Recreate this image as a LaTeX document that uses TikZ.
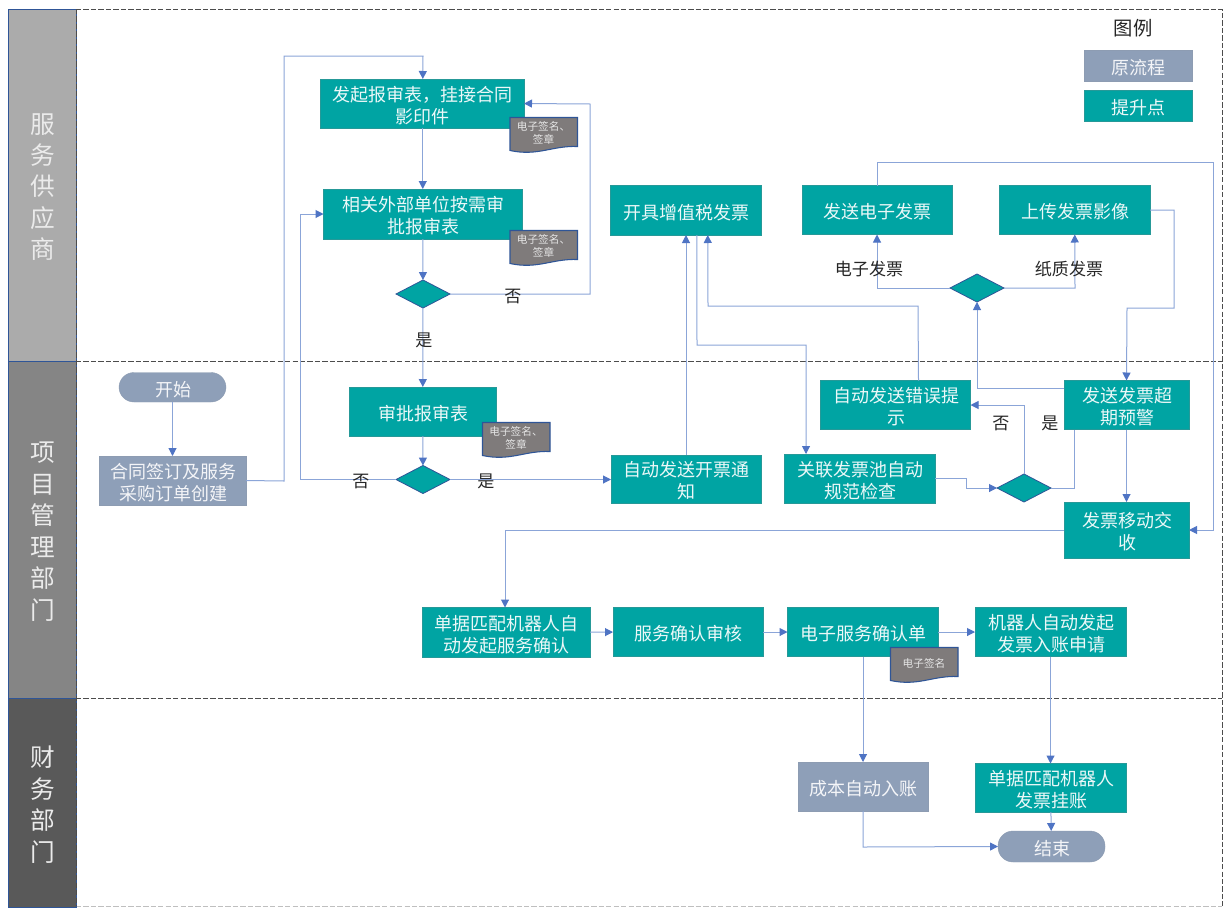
\documentclass[tikz,border=0pt]{standalone}
\usepackage{fontspec}
\setmainfont{Noto Sans CJK SC}
\usetikzlibrary{arrows.meta,shapes.geometric,calc}
\definecolor{tealfill}{HTML}{00A4A3}
\definecolor{slatefill}{HTML}{8E9FB8}
\definecolor{edgeblue}{HTML}{2F5597}
\definecolor{linkblue}{HTML}{8BA5D8}
\definecolor{headblue}{HTML}{4F74C4}
\definecolor{tagfill}{HTML}{7F7B7B}
\newcommand{\pxu}{0.75pt}
\tikzset{
  basebox/.style={inner sep=0pt,outer sep=0pt,align=center,font=\fontsize{13.5pt}{16.5pt}\selectfont},
  tealbox/.style={basebox,fill=tealfill,draw=tealfill!70!gray,line width=0.3pt,text=white!92!tealfill},
  slatebox/.style={basebox,fill=slatefill,draw=slatefill!90!gray,line width=0.3pt,text=white!90!slatefill},
  pill/.style={slatebox,rounded corners=11.2pt},
  decision/.style={diamond,aspect=1.93,fill=tealfill,draw=edgeblue,line width=0.6pt,inner sep=0pt,outer sep=0pt,minimum width=40.5pt,minimum height=21pt},
  link/.style={draw=linkblue,line width=0.75pt},
  arrowlink/.style={link,-{Triangle[length=6pt,width=6pt,color=headblue]}},
  lanehead/.style={draw=edgeblue,line width=0.7pt,inner sep=0pt,outer sep=0pt,align=center,text=white!92!black,font=\fontsize{18.5pt}{23.6pt}\selectfont},
  lanerule/.style={draw=black!70,line width=0.7pt,dash pattern=on 4pt off 1.6pt},
  mark label/.style={inner sep=0pt,text=black!85,font=\fontsize{12.8pt}{15pt}\selectfont},
  tagshape/.style={fill=tagfill,draw=edgeblue,line width=0.8pt},
  tagtext/.style={inner sep=0pt,align=center,text=white!90!black,font=\fontsize{8pt}{9.8pt}\selectfont},
  legendtitle/.style={inner sep=0pt,text=black!85,font=\fontsize{14.5pt}{17pt}\selectfont},
}
\newcommand{\pbox}[7][]{%
  \pgfmathsetmacro{\pcx}{(#4+#6)/2}\pgfmathsetmacro{\pcy}{(#5+#7)/2}%
  \pgfmathsetmacro{\pw}{(#6-#4)*0.75}\pgfmathsetmacro{\ph}{(#7-#5)*0.75}%
  \node[minimum width=\pw pt,minimum height=\ph pt,#1] (#3) at (\pcx,\pcy) {};
  \node[#1,fill=none,draw=none] (#3text) at ($(\pcx,\pcy)+(0.5,2)$) {#2};}
\newcommand{\tagdoc}[4]{%
  \draw[tagshape] (#2,#3) -- ($(#2,#3)+(67.5,0)$) -- ($(#2,#3)+(67.5,29)$) .. controls ($(#2,#3)+(42,28)$) and ($(#2,#3)+(28,39)$) .. ($(#2,#3)+(0,33)$) -- cycle;
  \node[tagtext] (#1) at ($(#2,#3)+(33.5,15.5)$) {#4};}
\begin{document}
\begin{tikzpicture}[x=0.75pt,y=-0.75pt]
\useasboundingbox (0,0) rectangle (1223,907);
\fill[white] (0,0) rectangle (1223,907);
% swimlane frame
\draw[lanerule] (76,9) -- (1222,9) -- (1222,906);
\draw[lanerule] (76,361) -- (1222,361);
\draw[lanerule] (76,698) -- (1222,698);
\draw[lanerule,draw=black!25] (76,906) -- (1222,906);
% lanes
\pbox[lanehead,fill=black!33]{服\\务\\供\\应\\商}{lanea}{8}{9}{76}{361}
\pbox[lanehead,fill=black!48]{项\\目\\管\\理\\部\\门}{laneb}{8}{361}{76}{698}
\pbox[lanehead,fill=black!65]{财\\务\\部\\门}{lanec}{8}{698}{76}{907}
\draw[lanerule] (76,9) -- (76,906);
% legend
\node[legendtitle] (legendt) at (1133,28) {图例};
\pbox[slatebox]{原流程}{lega}{1084}{50}{1192}{81}
\pbox[tealbox]{提升点}{legb}{1084}{90}{1192}{121}
% boxes
\pbox[tealbox]{发起报审表，挂接合同\\影印件}{fq}{320.5}{79}{524}{128}
\pbox[tealbox]{相关外部单位按需审\\批报审表}{xg}{323.5}{189}{522}{239}
\node[decision] (d1) at (423,294) {};
\pbox[tealbox]{开具增值税发票}{kj}{610.5}{185.5}{761}{235}
\pbox[tealbox]{发送电子发票}{fs}{802}{185.5}{952}{234.5}
\pbox[tealbox]{上传发票影像}{sc}{999.5}{185.5}{1150}{234.5}
\node[decision] (d4) at (977,288) {};
\pbox[pill]{开始}{start}{119}{372.5}{226}{402}
\pbox[slatebox]{合同签订及服务\\采购订单创建}{ht}{99}{456}{246}{505}
\pbox[tealbox]{审批报审表}{sp}{349.5}{387}{496}{436}
\node[decision] (d2) at (423,479.5) {};
\pbox[tealbox]{自动发送开票通\\知}{tz}{611}{455}{761}{503}
\pbox[tealbox]{关联发票池自动\\规范检查}{gl}{784}{454}{935}{503}
\pbox[tealbox]{自动发送错误提\\示}{cw}{820.5}{380.5}{970.5}{429.5}
\pbox[tealbox]{发送发票超\\期预警}{yj}{1064}{380.5}{1189}{429.5}
\node[decision] (d3) at (1024,488) {};
\pbox[tealbox]{发票移动交\\收}{js}{1064}{502}{1189}{558}
\pbox[tealbox]{单据匹配机器人自\\动发起服务确认}{pp}{422.5}{607.5}{590}{657}
\pbox[tealbox]{服务确认审核}{sh}{613}{607.5}{763}{656.5}
\pbox[tealbox]{电子服务确认单}{dz}{787.5}{607.5}{938}{656.5}
\pbox[tealbox]{机器人自动发起\\发票入账申请}{jq}{975}{607.5}{1126}{656.5}
\pbox[slatebox]{成本自动入账}{cb}{798}{762}{928}{811}
\pbox[tealbox]{单据匹配机器人\\发票挂账}{gz}{975}{763.5}{1126}{812}
\pbox[pill]{结束}{end}{998}{831}{1105}{862}
% connectors
\draw[arrowlink] (start) -- (ht);
\draw[arrowlink] (ht.east) -- (284,481) -- (284,56) -- (423,56) -- ([xshift=0.5*\pxu]fq.north);
\draw[arrowlink] (fq.south -| xg) -- (xg.north);
\draw[arrowlink] (xg) -- (d1);
\draw[arrowlink] (d1.east) -- (590,294) -- (590,104) -- (fq.east);
\draw[arrowlink] (d1) -- (sp);
\draw[arrowlink] (sp) -- (d2);
\draw[arrowlink] (d2.west) -- (300,479.5) -- (300,214) -- (xg.west);
\draw[arrowlink] (d2.east) -- (tz.west |- d2);
\draw[arrowlink] (tz.north) -- (kj.south -| tz);
\draw[arrowlink] ([xshift=11*\pxu]kj.south) -- (697,345) -- (806,345) -- ([xshift=-53.5*\pxu]gl.north);
\draw[arrowlink] ([xshift=23*\pxu]cw.north) -- (918,306) -- (708,306) -- ([xshift=22*\pxu]kj.south);
\draw[arrowlink] (gl.east) -- (966,478.5) -- (966,488) -- (d3.west);
\draw[arrowlink] (d3.north) -- (1024,405) -- (cw.east);
\draw[link] (d3.east) -- (1074,488) -- (1074,429.5);
\draw[arrowlink] (yj.south) -- (js.north);
\draw[arrowlink] ([yshift=16.5*\pxu]yj.west) -- (977,388.5) -- (d4.south);
\draw[arrowlink] (d4.west) -- (877,288) -- (fs.south);
\draw[arrowlink] (d4.east) -- (1075,288) -- (sc.south);
\draw[arrowlink] (sc.east) -- (1174,210) -- (1174,308) -- (1127,308) -- (yj.north);
\draw[arrowlink] (fs.north) -- (877,162) -- (1213,162) -- (1213,530) -- (js.east);
\draw[arrowlink] (js.west) -- (505,530) -- (505,607.5);
\draw[arrowlink] (pp) -- (sh);
\draw[arrowlink] (sh) -- (dz);
\draw[arrowlink] (dz) -- (jq);
\draw[arrowlink] (cb.north |- dz.south) -- (cb.north);
\draw[arrowlink] (jq) -- (gz);
\draw[arrowlink] (gz) -- (end);
\draw[arrowlink] (cb.south) -- (863,847) -- (end.west);
% tags
\tagdoc{t1}{510}{117.5}{电子签名、\\签章}
\tagdoc{t2}{510}{230.5}{电子签名、\\签章}
\tagdoc{t3}{482.5}{422.5}{电子签名、\\签章}
\tagdoc{t4}{890.5}{647.5}{电子签名}
% labels
\node[mark label] (l1) at (424,340) {是};
\node[mark label] (l2) at (513,296) {否};
\node[mark label] (l3) at (361,481) {否};
\node[mark label] (l4) at (486,481) {是};
\node[mark label] (l5) at (1001,423) {否};
\node[mark label] (l6) at (1050,423) {是};
\node[mark label] (l7) at (869,269) {电子发票};
\node[mark label] (l8) at (1069,268.5) {纸质发票};
\end{tikzpicture}
\end{document}
